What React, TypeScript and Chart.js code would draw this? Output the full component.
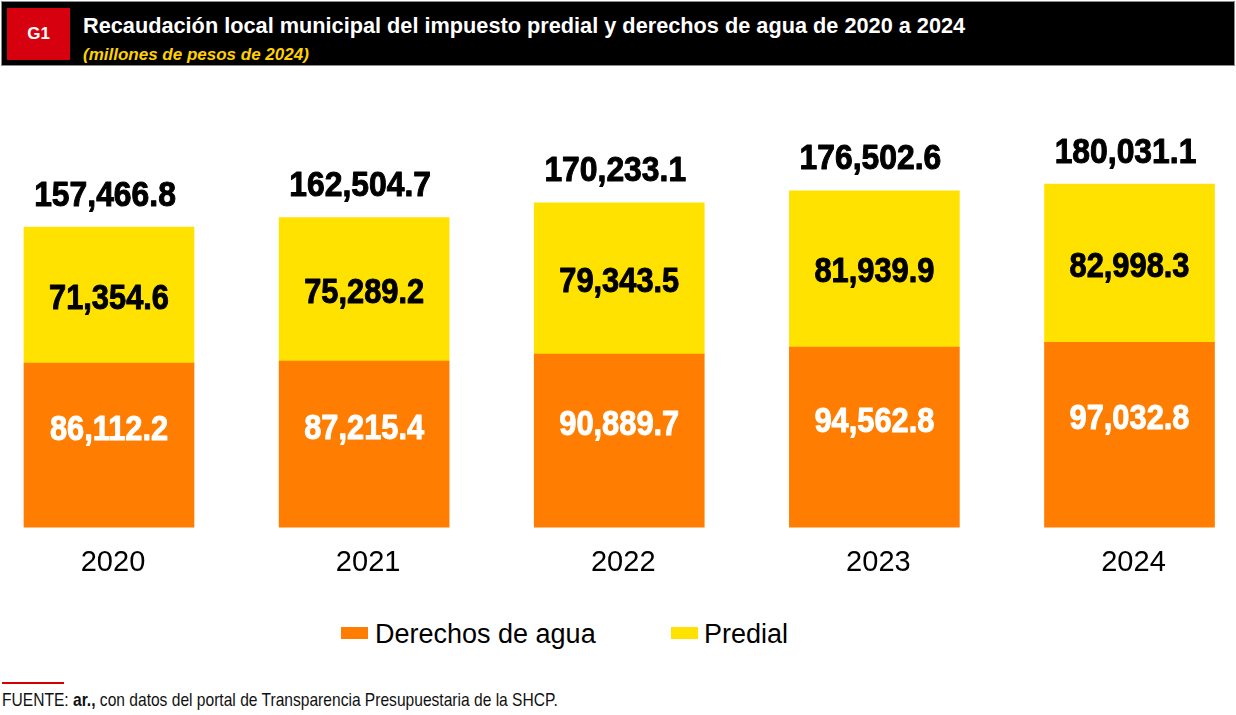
import { useEffect, useRef } from 'react';
import { Chart, registerables } from 'chart.js';

Chart.register(...registerables);

// Years on the category axis
const years = ['2020', '2021', '2022', '2023', '2024'];
// Millions of 2024 pesos
const derechosAgua = [86112.2, 87215.4, 90889.7, 94562.8, 97032.8];
const predial = [71354.6, 75289.2, 79343.5, 81939.9, 82998.3];
// Published totals (rounded independently of the parts)
const totales = [157466.8, 162504.7, 170233.1, 176502.6, 180031.1];

const ORANGE = '#FF7D00';
const YELLOW = '#FFE200';
const SANS = '"Liberation Sans", Arial, Helvetica, sans-serif';

const fmt = (v: number) =>
  v.toLocaleString('en-US', { minimumFractionDigits: 1, maximumFractionDigits: 1 });

// Heavy, slightly condensed number label centred on (cx, cy)
function drawNumber(
  ctx: CanvasRenderingContext2D,
  text: string,
  cx: number,
  cy: number,
  color: string,
  size: number,
  squeeze: number
) {
  ctx.save();
  ctx.translate(cx, cy + size * 0.358);
  ctx.scale(squeeze, 1);
  ctx.font = `bold ${size}px ${SANS}`;
  ctx.textAlign = 'center';
  ctx.textBaseline = 'alphabetic';
  ctx.fillStyle = color;
  ctx.strokeStyle = color;
  ctx.lineWidth = 1;
  ctx.lineJoin = 'round';
  ctx.strokeText(text, 0, 0);
  ctx.fillText(text, 0, 0);
  ctx.restore();
}

const valueLabels = {
  id: 'valueLabels',
  afterDatasetsDraw(chart: any) {
    const ctx = chart.ctx as CanvasRenderingContext2D;
    const yScale = chart.scales.y;
    const agua = chart.getDatasetMeta(0).data;
    const pred = chart.getDatasetMeta(1).data;
    agua.forEach((el: any, i: number) => {
      drawNumber(ctx, fmt(derechosAgua[i]), el.x, (el.y + el.base) / 2 - 18, '#FFFFFF', 35, 0.88);
    });
    pred.forEach((el: any, i: number) => {
      drawNumber(ctx, fmt(predial[i]), el.x, (el.y + el.base) / 2 + 1, '#000000', 35, 0.88);
      drawNumber(ctx, fmt(totales[i]), el.x - 4, yScale.getPixelForValue(totales[i]) - 34, '#000000', 35, 0.91);
    });
  },
};

function StackedChart() {
  const ref = useRef<HTMLCanvasElement | null>(null);
  useEffect(() => {
    if (!ref.current) return;
    const chart = new Chart(ref.current, {
      type: 'bar',
      data: {
        labels: years,
        datasets: [
          { label: 'Derechos de agua', data: derechosAgua, backgroundColor: ORANGE, barThickness: 170, clip: false },
          { label: 'Predial', data: predial, backgroundColor: YELLOW, barThickness: 170, clip: false },
        ],
      },
      options: {
        responsive: false,
        animation: false,
        devicePixelRatio: 1,
        layout: { padding: { left: 109, right: 106.5, top: 42, bottom: 0 } },
        plugins: { legend: { display: false }, tooltip: { enabled: false } },
        scales: {
          x: {
            stacked: true,
            offset: false,
            grid: { display: false, drawTicks: false },
            border: { display: false },
            ticks: {
              padding: 18,
              color: '#000',
              maxRotation: 0,
              labelOffset: 4,
              font: { family: SANS, size: 29 },
            },
          },
          y: { stacked: true, display: false, min: 0, max: 220000 },
        },
      },
      plugins: [valueLabels],
    });
    return () => chart.destroy();
  }, []);
  return (
    <canvas
      ref={ref}
      width={1236}
      height={532}
      style={{ position: 'absolute', left: 0, top: 66, width: 1236, height: 532 }}
    />
  );
}

export default function App() {
  return (
    <div
      style={{
        position: 'absolute',
        left: 0,
        top: 0,
        width: 1236,
        height: 715,
        background: '#fff',
        overflow: 'hidden',
        fontFamily: SANS,
      }}
    >
      {/* Header band */}
      <div
        style={{
          position: 'absolute',
          left: 1,
          top: 1,
          width: 1234,
          height: 65,
          boxSizing: 'border-box',
          background: '#000',
          border: '1px solid #8c8c8c',
        }}
      />
      <div
        style={{
          position: 'absolute',
          left: 7,
          top: 8,
          width: 63,
          height: 52,
          background: '#D7000F',
          color: '#fff',
          fontWeight: 700,
          fontSize: 17,
          display: 'flex',
          alignItems: 'center',
          justifyContent: 'center',
        }}
      >
        G1
      </div>
      <div
        style={{
          position: 'absolute',
          left: 83,
          top: 15,
          fontSize: 22,
          lineHeight: '22px',
          fontWeight: 700,
          color: '#fff',
          whiteSpace: 'nowrap',
          transform: 'scaleX(0.987)',
          transformOrigin: 'left top',
        }}
      >
        Recaudación local municipal del impuesto predial y derechos de agua de 2020 a 2024
      </div>
      <div
        style={{
          position: 'absolute',
          left: 83,
          top: 46,
          fontSize: 17,
          lineHeight: '17px',
          fontWeight: 700,
          fontStyle: 'italic',
          color: '#FFD100',
          whiteSpace: 'nowrap',
        }}
      >
        (millones de pesos de 2024)
      </div>

      <StackedChart />

      {/* Legend */}
      <div style={{ position: 'absolute', left: 341, top: 627, width: 27, height: 12, background: ORANGE }} />
      <div
        style={{ position: 'absolute', left: 375, top: 621, fontSize: 27, lineHeight: '27px', color: '#000', whiteSpace: 'nowrap' }}
      >
        Derechos de agua
      </div>
      <div style={{ position: 'absolute', left: 671, top: 627, width: 27, height: 12, background: YELLOW }} />
      <div
        style={{ position: 'absolute', left: 704, top: 621, fontSize: 27, lineHeight: '27px', color: '#000', whiteSpace: 'nowrap' }}
      >
        Predial
      </div>

      {/* Source note */}
      <div style={{ position: 'absolute', left: 2, top: 682, width: 62, height: 2, background: '#D50000' }} />
      <div
        style={{
          position: 'absolute',
          left: 2,
          top: 690,
          fontSize: 19,
          lineHeight: '19px',
          color: '#111',
          whiteSpace: 'nowrap',
          transform: 'scaleX(0.82)',
          transformOrigin: 'left top',
        }}
      >
        FUENTE: <b>ar.,</b> con datos del portal de Transparencia Presupuestaria de la SHCP.
      </div>
    </div>
  );
}
